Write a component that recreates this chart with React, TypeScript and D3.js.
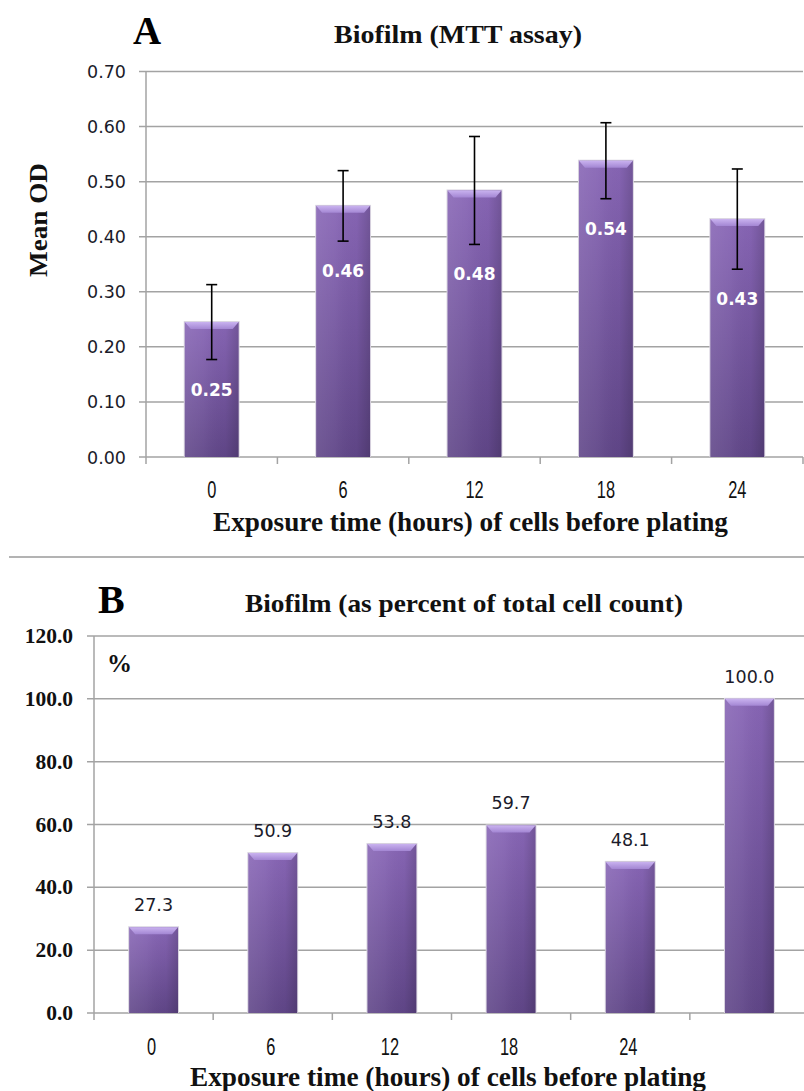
import React from 'react';
import * as d3 from 'd3';

// ---------- Data ----------
const categoriesA = ['0', '6', '12', '18', '24'];
const meanOD = [0.245, 0.456, 0.484, 0.538, 0.432];
const errorOD = [0.068, 0.064, 0.098, 0.069, 0.091];
const labelsA = ['0.25', '0.46', '0.48', '0.54', '0.43'];
const ticksA = [0, 0.1, 0.2, 0.3, 0.4, 0.5, 0.6, 0.7];

const categoriesB = ['0', '6', '12', '18', '24', ''];
const percentB = [27.3, 50.9, 53.8, 59.7, 48.1, 100.0];
const ticksB = [0, 20, 40, 60, 80, 100, 120];

const xTitle = 'Exposure  time  (hours)  of  cells  before  plating';

const GRID = '#a3a3a3';
const SERIF = '"Liberation Serif", "Times New Roman", serif';
const SANS = '"DejaVu Sans", Verdana, sans-serif';
const NARROW = '"Liberation Sans", Arial, sans-serif';

function Bar({ x, y, w, h }: { x: number; y: number; w: number; h: number }) {
  const b = 7;
  const inset = 6;
  return (
    <g>
      <rect x={x - 1} y={y - 1} width={w + 2} height={h + 1} fill="#d9d4e0" />
      <rect x={x} y={y} width={w} height={h} fill="url(#barV)" />
      <rect x={x} y={y} width={w} height={h} fill="url(#barH)" />
      <polygon
        points={`${x},${y} ${x + w},${y} ${x + w - inset},${y + b} ${x + inset},${y + b}`}
        fill="url(#bevel)"
      />
    </g>
  );
}

function TallText({ x, y, size, width, children, anchor }: any) {
  // serif bold text, slightly condensed and tall like the original
  return (
    <text
      transform={`translate(${x},${y}) scale(1,1.12)`}
      textAnchor={anchor || 'start'}
      fontFamily={SERIF}
      fontWeight="bold"
      fontSize={size}
      fill="#111"
      textLength={width}
      lengthAdjust="spacingAndGlyphs"
    >
      {children}
    </text>
  );
}

function PanelA() {
  const x = d3.scaleBand<string>().domain(categoriesA).range([146, 803]).padding(0);
  const y = d3.scaleLinear().domain([0, 0.7]).range([457, 71.5]);
  const bw = x.bandwidth() * 0.41;
  const bounds = d3.range(categoriesA.length + 1).map((i) => 146 + i * x.bandwidth());
  return (
    <g>
      {ticksA.map((t) => (
        <g key={t}>
          <line x1={139} x2={803} y1={y(t)} y2={y(t)} stroke={GRID} strokeWidth={1.5} />
          <text x={126} y={y(t) + 6.5} textAnchor="end" fontFamily={SANS} fontSize={17.5} fill="#1b1b2a">
            {t.toFixed(2)}
          </text>
        </g>
      ))}
      <line x1={146} x2={146} y1={71.5} y2={457} stroke={GRID} strokeWidth={1.5} />
      {bounds.map((b, i) => (
        <line key={i} x1={b} x2={b} y1={457} y2={464} stroke={GRID} strokeWidth={1.5} />
      ))}
      {categoriesA.map((c, i) => {
        const cx = (x(c) as number) + x.bandwidth() / 2;
        const top = y(meanOD[i]);
        const hi = y(meanOD[i] + errorOD[i]);
        const lo = y(meanOD[i] - errorOD[i]);
        return (
          <g key={c}>
            <Bar x={cx - bw / 2} y={top} w={bw} h={457 - top} />
            <line x1={cx} x2={cx} y1={hi} y2={lo} stroke="#000" strokeWidth={1.6} />
            <line x1={cx - 5.5} x2={cx + 5.5} y1={hi} y2={hi} stroke="#000" strokeWidth={1.6} />
            <line x1={cx - 5.5} x2={cx + 5.5} y1={lo} y2={lo} stroke="#000" strokeWidth={1.6} />
            <text x={cx} y={lo + 36} textAnchor="middle" fontFamily={SANS} fontWeight="bold" fontSize={17} fill="#fff">
              {labelsA[i]}
            </text>
            <text
              transform={`translate(${cx},498) scale(0.78,1.1)`}
              textAnchor="middle"
              fontFamily={NARROW}
              fontSize={21}
              fill="#111"
            >
              {c}
            </text>
          </g>
        );
      })}
    </g>
  );
}

function PanelB() {
  const x = d3.scaleBand<string>().domain(categoriesB.map((c, i) => c + '#' + i)).range([94, 809]).padding(0);
  const y = d3.scaleLinear().domain([0, 120]).range([1013, 636]);
  const bw = x.bandwidth() * 0.41;
  const bounds = d3.range(categoriesB.length + 1).map((i) => 94 + i * x.bandwidth());
  return (
    <g>
      {ticksB.map((t) => (
        <g key={t}>
          <line x1={87} x2={804} y1={y(t)} y2={y(t)} stroke={GRID} strokeWidth={1.5} />
          <text x={73} y={y(t) + 7} textAnchor="end" fontFamily={SERIF} fontWeight="bold" fontSize={21.5} fill="#111">
            {t.toFixed(1)}
          </text>
        </g>
      ))}
      <line x1={94} x2={94} y1={636} y2={1013} stroke={GRID} strokeWidth={1.5} />
      {bounds.map((b, i) => (
        <line key={i} x1={b} x2={b} y1={1013} y2={1020} stroke={GRID} strokeWidth={1.5} />
      ))}
      {categoriesB.map((c, i) => {
        const key = c + '#' + i;
        const cx = (x(key) as number) + x.bandwidth() / 2;
        const top = y(percentB[i]);
        return (
          <g key={key}>
            <Bar x={cx - bw / 2} y={top} w={bw} h={1013 - top} />
            <text x={cx} y={top - 16} textAnchor="middle" fontFamily={SANS} fontSize={17.5} fill="#1b1b2a">
              {percentB[i].toFixed(1)}
            </text>
            <text
              transform={`translate(${cx - 2},1055) scale(0.78,1.1)`}
              textAnchor="middle"
              fontFamily={NARROW}
              fontSize={21}
              fill="#111"
            >
              {c}
            </text>
          </g>
        );
      })}
      <text x={107} y={672} fontFamily={SERIF} fontWeight="bold" fontSize={25} fill="#111">
        %
      </text>
    </g>
  );
}

export default function App() {
  return (
    <svg
      width={804}
      height={1091}
      viewBox="0 0 804 1091"
      style={{ position: 'absolute', left: 0, top: 0, background: '#fff' }}
    >
      <defs>
        <linearGradient id="barV" x1="0" y1="0" x2="0" y2="1">
          <stop offset="0" stopColor="#8866b6" />
          <stop offset="1" stopColor="#604688" />
        </linearGradient>
        <linearGradient id="barH" x1="0" y1="0" x2="1" y2="0">
          <stop offset="0" stopColor="#ffffff" stopOpacity={0.1} />
          <stop offset="0.35" stopColor="#ffffff" stopOpacity={0.05} />
          <stop offset="0.75" stopColor="#000000" stopOpacity={0.02} />
          <stop offset="1" stopColor="#000000" stopOpacity={0.16} />
        </linearGradient>
        <linearGradient id="bevel" x1="0" y1="0" x2="0" y2="1">
          <stop offset="0" stopColor="#c9b2ef" />
          <stop offset="1" stopColor="#a386d3" />
        </linearGradient>
      </defs>
      <rect width={804} height={1091} fill="#fff" />

      {/* Panel A headings */}
      <text x={133} y={44} fontFamily={SERIF} fontWeight="bold" fontSize={39} fill="#000">A</text>
      <TallText x={334} y={43} size={23} width={248}>Biofilm  (MTT assay)</TallText>
      <text
        transform="translate(47,220) rotate(-90)"
        textAnchor="middle"
        fontFamily={SERIF}
        fontWeight="bold"
        fontSize={26}
        fill="#111"
        textLength={114}
        lengthAdjust="spacingAndGlyphs"
      >
        Mean OD
      </text>
      <PanelA />
      <TallText x={213} y={531} size={24} width={515}>{xTitle}</TallText>

      <line x1={9} x2={804} y1={557} y2={557} stroke="#9a9a9a" strokeWidth={1.5} />

      {/* Panel B headings */}
      <text x={98} y={613} fontFamily={SERIF} fontWeight="bold" fontSize={40} fill="#000">B</text>
      <TallText x={245} y={612} size={23} width={438}>Biofilm  (as percent of total cell count)</TallText>
      <PanelB />
      <TallText x={190} y={1086} size={24} width={516}>{xTitle}</TallText>
    </svg>
  );
}
